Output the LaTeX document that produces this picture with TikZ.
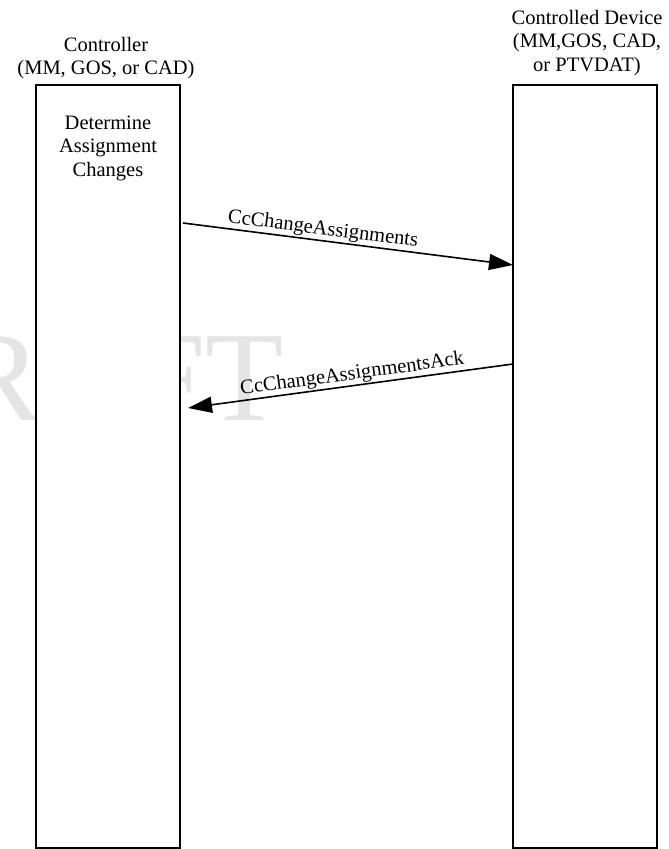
\documentclass[tikz,border=0pt]{standalone}
\usepackage{fontspec}
\setmainfont{Liberation Serif}
\usetikzlibrary{arrows.meta}
\begin{document}
\begin{tikzpicture}[x=1pt,y=1pt,
  txt/.style={font=\fontsize{20.5}{23.5}\selectfont},
  lifeline/.style={draw, line width=1.6pt, fill=white, minimum width=144pt,
    minimum height=763pt, inner sep=0pt, outer sep=0pt},
  hdr/.style={txt, align=center, inner sep=0pt},
  msg/.style={line width=1.6pt, -{Triangle[length=24pt,width=16pt]}},
  msglabel/.style={txt, sloped, above, inner sep=1pt},
  watermark/.style={text=black!10, font=\fontsize{128}{128}\selectfont,
    inner sep=0pt, anchor=base east}]
\useasboundingbox (0,0) rectangle (669,-849);

% faint watermark behind everything
\node[watermark] (wm) at (284,-420) {DRAFT};

% lifelines
\node[lifeline] (ctrl) at (108,-466.5) {};
\node[lifeline] (dev) at (585,-466.5) {};

% headers
\node[hdr] (ctrlhdr) at (106,-58) {Controller\\(MM, GOS, or CAD)};
\node[hdr] (devhdr) at (587,-43) {Controlled Device\\(MM,GOS, CAD,\\or PTVDAT)};

% activity text
\node[hdr] (det) at (108,-148) {Determine\\Assignment\\Changes};

% message levels
\coordinate (y1) at (0,-223);
\coordinate (y2) at (0,-265);
\coordinate (y3) at (0,-364);
\coordinate (y4) at (0,-408);

\coordinate (a1s) at ([xshift=3pt]ctrl.east |- y1);
\coordinate (a1e) at (dev.west |- y2);
\coordinate (a2s) at (dev.west |- y3);
\coordinate (a2e) at ([xshift=8pt]ctrl.east |- y4);

\draw[msg] (a1s) -- (a1e) node[msglabel, pos=0.42] {CcChangeAssignments};
\draw[msg] (a2s) -- (a2e) node[msglabel, pos=0.49] {CcChangeAssignmentsAck};
\end{tikzpicture}
\end{document}
